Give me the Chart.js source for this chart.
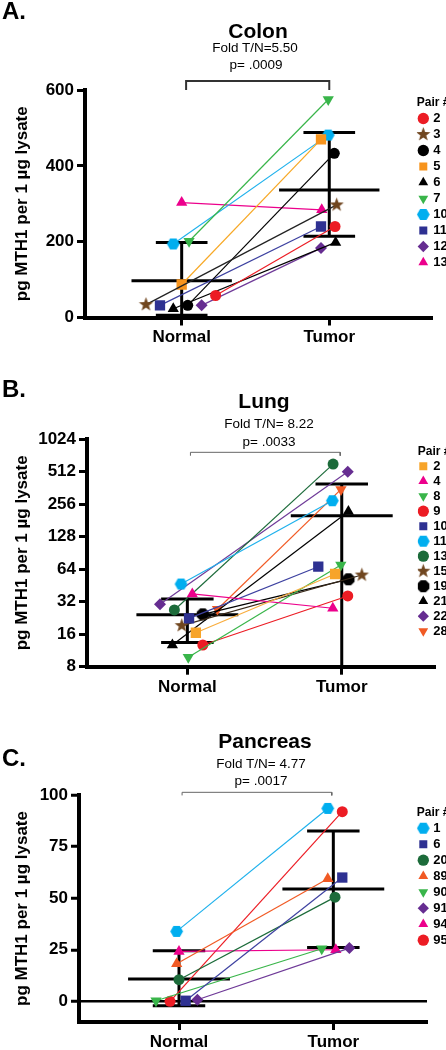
<!DOCTYPE html>
<html>
<head>
<meta charset="utf-8">
<script src="https://cdn.jsdelivr.net/npm/chart.js@4.4.1/dist/chart.umd.min.js"></script>
<style>
  body { margin: 0; background: #fff; font-family: 'Liberation Sans', Arial, sans-serif; }
  #page { position: relative; width: 446px; height: 1050px; overflow: hidden; }
  .panel { position: absolute; left: 0; width: 446px; }
  .txt { position: absolute; line-height: 1; white-space: nowrap; color: #000; }
  .letter { left: 2px; font-size: 24px; font-weight: bold; }
  .ttl { font-size: 21px; font-weight: bold; transform: translateX(-50%); }
  .sub { font-size: 13.5px; transform: translateX(-50%); }
</style>
</head>
<body>
<div id="page">
  <div class="panel" style="top:0;height:360px"><canvas id="colonChart"></canvas></div>
  <div class="panel" style="top:360px;height:340px"><canvas id="lungChart"></canvas></div>
  <div class="panel" style="top:700px;height:350px"><canvas id="pancChart"></canvas></div>

  <div class="txt letter" style="top:-1px">A.</div>
  <div class="txt ttl" style="left:258px;top:20px">Colon</div>
  <div class="txt sub" style="left:255px;top:41px">Fold T/N=5.50</div>
  <div class="txt sub" style="left:256px;top:58px">p= .0009</div>

  <div class="txt letter" style="top:377px">B.</div>
  <div class="txt ttl" style="left:264px;top:390px">Lung</div>
  <div class="txt sub" style="left:269px;top:417px">Fold T/N= 8.22</div>
  <div class="txt sub" style="left:269px;top:435px">p= .0033</div>

  <div class="txt letter" style="top:746px">C.</div>
  <div class="txt ttl" style="left:265px;top:730px">Pancreas</div>
  <div class="txt sub" style="left:261px;top:757px">Fold T/N= 4.77</div>
  <div class="txt sub" style="left:261px;top:774px">p= .0017</div>
</div>

<script>
const groups = ['Normal', 'Tumor'];
const yTitle = 'pg MTH1 per 1 µg lysate';

// Colon
const colonPairs = ['2', '3', '4', '5', '6', '7', '10', '11', '12', '13'];
const colonNormal = [58, 34, 32, 87, 23, 201, 194, 32, 32, 303];
const colonTumor = [240, 297, 433, 470, 198, 575, 481, 240, 183, 284];
const colonNormalBar = [6, 97, 198];     // low, mean, high
const colonTumorBar = [214, 336, 488];
const colonTicks = [0, 200, 400, 600];
const colonBracket = [600, 624];

// Lung
const lungPairs = ['2', '4', '8', '9', '10', '11', '13', '15', '19', '21', '22', '28'];
const lungNormal = [16.5, 37.7, 9.8, 12.7, 22.4, 46.6, 26.8, 19.2, 24.4, 12.7, 30.2, 27.2];
const lungTumor = [57.7, 27.8, 69.8, 36.1, 67.4, 275, 600, 56.4, 51.5, 218, 510, 350];
const lungNormalBar = [13.4, 24.2, 33.8];
const lungTumorBar = [8, 200, 392];
const lungTicks = [8, 16, 32, 64, 128, 256, 512, 1024];
const lungBracket = [717, 771];

// Pancreas
const pancPairs = ['1', '6', '20', '89', '90', '91', '94', '95'];
const pancNormal = [33.9, 0.3, 10.5, 18.2, 0.3, 0.8, 24.2, 0];
const pancTumor = [93.5, 60, 50.5, 59.4, 25.5, 25.8, 25, 91.9];
const pancNormalBar = [-2.1, 10.8, 24.5];
const pancTumorBar = [26.1, 54.4, 82.6];
const pancTicks = [0, 25, 50, 75, 100];
const pancBracket = [99.8, 101.3];

// horizontal spread of the points around each group (x units)
const colonJitterN = [0.23, -0.242, 0.041, 0, -0.057, 0.05, -0.057, -0.147, 0.135, 0];
const colonJitterT = [0.039, 0.05, 0.034, -0.056, 0.043, -0.007, -0.007, -0.056, -0.056, -0.051];
const lungJitterN = [0.055, 0.032, 0.006, 0.1, 0.011, -0.041, -0.084, -0.036, 0.1, -0.097, -0.177, 0.195];
const lungJitterT = [-0.043, -0.058, -0.006, 0.039, -0.152, -0.061, -0.056, 0.13, 0.043, 0.043, 0.039, -0.005];
const pancJitterN = [-0.015, 0.043, 0, -0.015, -0.149, 0.119, 0, -0.058];
const pancJitterT = [-0.036, 0.058, 0.011, -0.036, -0.075, 0.104, 0.016, 0.058];

// colours
const RED = '#ec1c24', BROWN = '#70461f', BLACK = '#000000', ORANGE = '#f7941d';
const GREEN = '#39b54a', CYAN = '#00aeef', NAVY = '#2e3192', PURPLE = '#662d91';
const PINK = '#ec008c', DKGREEN = '#1c6b3a', ORANGERED = '#f15a24', LORANGE = '#f7a42a';

const colonMarks = ['circle', 'star', 'circle', 'rect', 'triangle', 'down', 'hex', 'rect', 'rectRot', 'triangle'];
const colonColors = [RED, BROWN, BLACK, ORANGE, BLACK, GREEN, CYAN, NAVY, PURPLE, PINK];
const colonLines = [RED, '#222', BLACK, '#f7a825', BLACK, GREEN, '#1fb1ec', '#3d41a0', '#6f3a98', PINK];

const lungMarks = ['rect', 'triangle', 'down', 'circle', 'rect', 'hex', 'circle', 'star', 'oct', 'triangle', 'rectRot', 'down'];
const lungColors = [LORANGE, PINK, GREEN, RED, NAVY, CYAN, DKGREEN, BROWN, BLACK, BLACK, PURPLE, ORANGERED];
const lungLines = ['#f9ad3d', PINK, GREEN, RED, '#3d41a0', '#1fb1ec', DKGREEN, '#3a2a1a', BLACK, BLACK, '#6f3a98', ORANGERED];

const pancMarks = ['hex', 'rect', 'circle', 'triangle', 'down', 'rectRot', 'triangle', 'circle'];
const pancColors = [CYAN, NAVY, DKGREEN, ORANGERED, GREEN, PURPLE, PINK, RED];
const pancLines = ['#1fb1ec', '#3d41a0', DKGREEN, ORANGERED, GREEN, '#6f3a98', PINK, RED];

Chart.defaults.font.family = "'Liberation Sans', Arial, sans-serif";
Chart.defaults.color = '#000';

// filled polygon / star marker used as a pointStyle image
function polygonMark(n, outer, inner, color, start) {
  const c = document.createElement('canvas');
  const size = Math.ceil(outer * 2 + 2);
  c.width = size; c.height = size;
  const ctx = c.getContext('2d');
  const steps = inner ? n * 2 : n;
  ctx.beginPath();
  for (let i = 0; i < steps; i++) {
    const r = inner && i % 2 ? inner : outer;
    const a = start + i * Math.PI * 2 / steps;
    const px = size / 2 + r * Math.cos(a), py = size / 2 + r * Math.sin(a);
    if (i === 0) ctx.moveTo(px, py); else ctx.lineTo(px, py);
  }
  ctx.closePath();
  ctx.fillStyle = color;
  ctx.fill();
  return c;
}

function markStyle(kind, color) {
  if (kind === 'star') return { pointStyle: polygonMark(5, 7.5, 3.1, color, -Math.PI / 2), pointRadius: 7 };
  if (kind === 'hex') return { pointStyle: polygonMark(6, 6.4, 0, color, 0), pointRadius: 7 };
  if (kind === 'oct') return { pointStyle: polygonMark(8, 6.6, 0, color, Math.PI / 8), pointRadius: 7 };
  if (kind === 'down') return { pointStyle: 'triangle', pointRotation: 180, pointRadius: 6.5 };
  if (kind === 'triangle') return { pointStyle: 'triangle', pointRadius: 6.5 };
  if (kind === 'rect') return { pointStyle: 'rect', pointRadius: 7.3 };
  if (kind === 'rectRot') return { pointStyle: 'rectRot', pointRadius: 6 };
  return { pointStyle: 'circle', pointRadius: 5.5 };
}

function pairSets(pairs, normal, tumor, jn, jt, marks, colors, lines) {
  return pairs.map((p, i) => Object.assign({
    label: p,
    data: [{ x: 1 + jn[i], y: normal[i] }, { x: 2 + jt[i], y: tumor[i] }],
    showLine: true,
    borderColor: lines[i],
    borderWidth: 1.2,
    backgroundColor: colors[i],
    pointBackgroundColor: colors[i],
    pointBorderColor: colors[i],
    pointBorderWidth: 0,
    order: 0
  }, markStyle(marks[i], colors[i])));
}

// mean +/- SD: vertical line, mean bar and two caps
function barSets(center, bar, meanHalf, capHalf) {
  const seg = (x1, y1, x2, y2) => ({
    data: [{ x: x1, y: y1 }, { x: x2, y: y2 }],
    showLine: true, borderColor: '#000', borderWidth: 3, pointRadius: 0, order: 1
  });
  const [lo, mean, hi] = bar;
  return [
    seg(center, lo, center, hi),
    seg(center - meanHalf, mean, center + meanHalf, mean),
    seg(center - capHalf, hi, center + capHalf, hi),
    seg(center - capHalf, lo, center + capHalf, lo)
  ];
}

function bracketSet(x1, x2, yr, width, color) {
  return {
    data: [{ x: x1, y: yr[0] }, { x: x1, y: yr[1] }, { x: x2, y: yr[1] }, { x: x2, y: yr[0] }],
    showLine: true, borderColor: color, borderWidth: width, pointRadius: 0, clip: false, order: 1
  };
}

const tickFont = { size: 17, weight: 'bold' };

function makeChart(id, cfg) {
  const axisGrid = { drawOnChartArea: false, tickLength: 8, tickWidth: 3, tickColor: '#000' };
  return new Chart(document.getElementById(id), {
    type: 'scatter',
    data: { datasets: cfg.datasets },
    options: {
      responsive: true,
      maintainAspectRatio: false,
      animation: false,
      events: [],
      layout: { padding: cfg.padding },
      plugins: {
        tooltip: { enabled: false },
        legend: {
          position: 'chartArea',
          align: 'start',
          title: { display: true, text: 'Pair #', position: 'start', padding: 0, color: '#000',
                   font: { size: 12, weight: 'bold', lineHeight: 1 } },
          labels: {
            usePointStyle: true, boxWidth: 7, boxHeight: 8, padding: cfg.legendGap,
            color: '#000', font: { size: 13, weight: 'bold' },
            filter: item => !!item.text
          }
        }
      },
      scales: {
        x: {
          type: 'linear', min: cfg.xRange[0], max: cfg.xRange[1],
          afterFit: s => { s.height = 28; },
          afterBuildTicks: s => { s.ticks = groups.map((g, i) => ({ value: i + 1 })); },
          ticks: { font: tickFont, padding: 2, color: '#000', autoSkip: false, maxRotation: 0,
                   callback: (v, i) => groups[i] },
          grid: axisGrid,
          border: { width: 4, color: '#000' }
        },
        y: {
          type: cfg.yType, min: cfg.yRange[0], max: cfg.yRange[1],
          afterFit: s => { s.width = cfg.yWidth; },
          afterBuildTicks: s => { s.ticks = cfg.yTicks.map(v => ({ value: v })); },
          ticks: { font: tickFont, padding: 3, color: '#000', autoSkip: false, callback: v => String(v) },
          grid: cfg.yGrid || axisGrid,
          border: { width: 4, color: '#000' },
          title: { display: true, text: yTitle, color: '#000', font: { size: 17, weight: 'bold' },
                   padding: { top: 12, bottom: 0 } }
        }
      }
    },
    plugins: [{
      id: 'legendSpot',
      afterLayout(chart) {
        const lg = chart.legend;
        lg.left = cfg.legendAt[0];
        lg.top = cfg.legendAt[1];
        lg.right = lg.left + lg.width;
        lg.bottom = chart.height;
      }
    }]
  });
}

makeChart('colonChart', {
  datasets: [
    ...pairSets(colonPairs, colonNormal, colonTumor, colonJitterN, colonJitterT, colonMarks, colonColors, colonLines),
    ...barSets(1, colonNormalBar, 0.34, 0.175),
    ...barSets(2, colonTumorBar, 0.34, 0.175),
    bracketSet(1.03, 2.0, colonBracket, 2, '#333')
  ],
  padding: { top: 90, left: 0, right: 14, bottom: 14.5 },
  xRange: [0.345, 2.696],
  yType: 'linear', yRange: [0, 600], yTicks: colonTicks, yWidth: 85,
  legendAt: [416.8, 97], legendGap: 3
});

makeChart('lungChart', {
  datasets: [
    ...pairSets(lungPairs, lungNormal, lungTumor, lungJitterN, lungJitterT, lungMarks, lungColors, lungLines),
    ...barSets(1, lungNormalBar, 0.33, 0.17),
    ...barSets(2, lungTumorBar, 0.33, 0.17),
    bracketSet(1.02, 1.99, lungBracket, 1, '#666')
  ],
  padding: { top: 79, left: 0, right: 11, bottom: 5.3 },
  xRange: [0.35, 2.604],
  yType: 'logarithmic', yRange: [8, 1024], yTicks: lungTicks, yWidth: 87,
  legendAt: [417.8, 85.7], legendGap: 2
});

makeChart('pancChart', {
  datasets: [
    ...pairSets(pancPairs, pancNormal, pancTumor, pancJitterN, pancJitterT, pancMarks, pancColors, pancLines),
    ...barSets(1, pancNormalBar, 0.33, 0.17),
    ...barSets(2, pancTumorBar, 0.33, 0.17),
    bracketSet(1.02, 1.99, pancBracket, 1, '#666')
  ],
  padding: { top: 95, left: 0, right: 19, bottom: 0 },
  xRange: [0.352, 2.607],
  yType: 'linear', yRange: [-10, 100], yTicks: pancTicks, yWidth: 79,
  yGrid: {
    drawOnChartArea: true, tickLength: 8, tickWidth: 3, tickColor: '#000', lineWidth: 2.5,
    color: c => (c.tick && c.tick.value === 0 ? '#000' : 'rgba(0,0,0,0)')
  },
  legendAt: [416.8, 106.7], legendGap: 3
});
</script>
</body>
</html>
